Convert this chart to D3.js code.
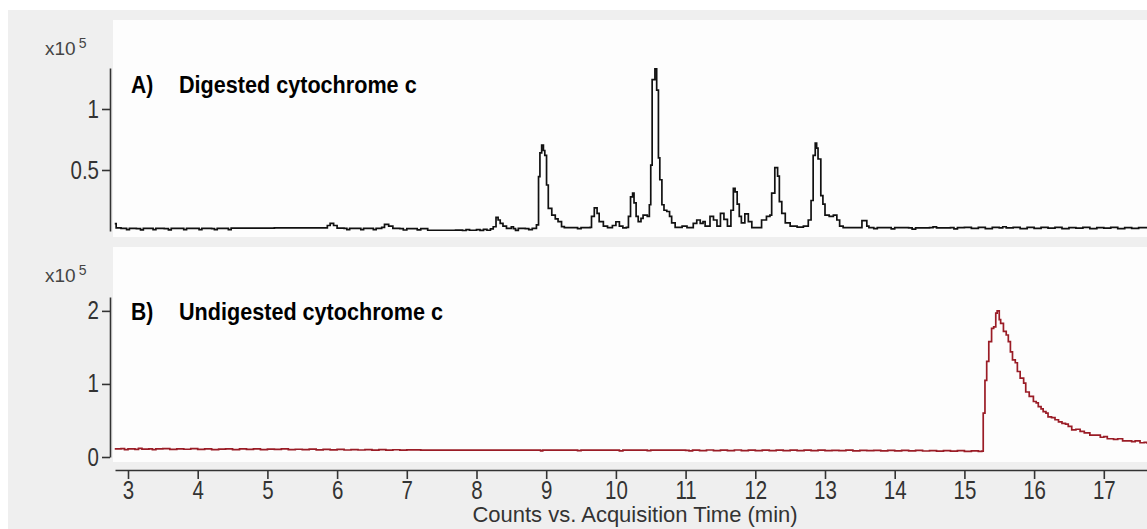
<!DOCTYPE html>
<html>
<head>
<meta charset="utf-8">
<script src="https://cdn.jsdelivr.net/npm/d3@7"></script>
<style>
  body { margin: 0; background: #ffffff; }
</style>
</head>
<body>
<div id="area_1"></div>
<script>
// chromatogram values, counts in x10^5, time in minutes
var digestedTrace = [
  [2.81,0.06],[2.83,0.025],[2.9,0.022],[2.98,0.012],[3.02,0.022],[3.12,0.02],[3.18,0.01],[3.22,0.022],
  [3.3,0.022],[3.36,0.012],[3.4,0.022],[3.52,0.02],[3.58,0.01],[3.62,0.022],[3.75,0.021],[3.8,0.012],
  [3.84,0.022],[3.95,0.022],[4.02,0.012],[4.06,0.022],[4.2,0.02],[4.24,0.012],[4.28,0.022],[4.4,0.022],
  [4.44,0.012],[4.48,0.024],[4.8,0.024],[5.1,0.025],[5.5,0.025],[5.82,0.025],[5.86,0.045],[5.9,0.063],
  [5.95,0.045],[6.0,0.024],[6.1,0.022],[6.14,0.012],[6.18,0.022],[6.3,0.022],[6.34,0.012],[6.38,0.022],
  [6.48,0.022],[6.52,0.012],[6.56,0.022],[6.64,0.03],[6.68,0.055],[6.74,0.04],[6.8,0.022],[6.9,0.02],
  [6.95,0.008],[7.0,0.02],[7.1,0.02],[7.15,0.01],[7.2,0.02],[7.3,0.006],[7.5,0.006],[7.7,0.007],
  [7.8,0.004],[7.85,0.012],[7.9,0.006],[8.0,0.012],[8.05,0.005],[8.1,0.014],[8.15,0.006],[8.2,0.018],
  [8.24,0.035],[8.28,0.112],[8.31,0.09],[8.34,0.063],[8.38,0.04],[8.43,0.022],[8.5,0.035],[8.53,0.02],
  [8.56,0.005],[8.6,0.022],[8.7,0.02],[8.75,0.012],[8.8,0.022],[8.86,0.05],[8.89,0.445],[8.91,0.64],
  [8.935,0.705],[8.96,0.66],[8.98,0.62],[9.005,0.377],[9.03,0.186],[9.08,0.13],[9.13,0.1],[9.17,0.077],
  [9.22,0.036],[9.26,0.027],[9.4,0.027],[9.45,0.02],[9.5,0.027],[9.63,0.03],[9.65,0.12],[9.69,0.19],
  [9.73,0.145],[9.76,0.077],[9.82,0.04],[9.88,0.028],[9.95,0.045],[10.0,0.076],[10.05,0.04],[10.1,0.025],
  [10.15,0.03],[10.18,0.12],[10.21,0.28],[10.24,0.31],[10.26,0.23],[10.29,0.12],[10.32,0.077],[10.36,0.104],
  [10.39,0.13],[10.45,0.12],[10.48,0.215],[10.5,0.54],[10.52,1.24],[10.56,1.33],[10.585,1.155],[10.61,0.6],
  [10.63,0.42],[10.66,0.215],[10.69,0.17],[10.73,0.16],[10.77,0.12],[10.8,0.066],[10.85,0.03],[10.95,0.04],
  [11.02,0.028],[11.11,0.063],[11.16,0.09],[11.21,0.063],[11.25,0.077],[11.28,0.04],[11.35,0.12],[11.4,0.09],
  [11.45,0.04],[11.5,0.145],[11.55,0.096],[11.6,0.04],[11.65,0.17],[11.685,0.35],[11.71,0.32],[11.74,0.22],
  [11.77,0.12],[11.8,0.066],[11.85,0.14],[11.9,0.077],[11.95,0.027],[12.05,0.027],[12.09,0.09],[12.16,0.12],
  [12.21,0.13],[12.235,0.31],[12.28,0.52],[12.32,0.45],[12.345,0.24],[12.38,0.145],[12.43,0.066],[12.5,0.04],
  [12.6,0.032],[12.69,0.04],[12.76,0.09],[12.8,0.25],[12.83,0.62],[12.86,0.72],[12.88,0.68],[12.9,0.59],
  [12.94,0.29],[12.97,0.22],[13.0,0.13],[13.06,0.12],[13.12,0.13],[13.17,0.09],[13.21,0.04],[13.26,0.027],
  [13.5,0.027],[13.53,0.085],[13.6,0.04],[13.63,0.027],[13.7,0.02],[13.75,0.027],[13.9,0.027],[13.95,0.018],
  [14.0,0.027],[14.2,0.025],[14.25,0.015],[14.3,0.026],[14.5,0.027],[14.55,0.033],[14.6,0.026],[14.8,0.028],
  [14.85,0.018],[14.9,0.027],[15.0,0.03],[15.1,0.022],[15.2,0.03],[15.3,0.02],[15.4,0.03],[15.5,0.026],
  [15.55,0.035],[15.6,0.025],[15.7,0.03],[15.8,0.02],[15.9,0.03],[16.0,0.022],[16.1,0.03],[16.2,0.024],
  [16.3,0.03],[16.4,0.02],[16.5,0.028],[16.6,0.024],[16.7,0.03],[16.8,0.02],[16.9,0.028],[17.0,0.024],
  [17.1,0.03],[17.2,0.02],[17.3,0.028],[17.4,0.022],[17.5,0.028],[17.62,0.024]
]

var undigestedTrace = [
  [2.81,0.11],[2.9,0.115],[2.95,0.1],[3.0,0.112],[3.1,0.105],[3.15,0.118],[3.2,0.108],[3.3,0.112],
  [3.35,0.1],[3.4,0.11],[3.5,0.115],[3.6,0.104],[3.7,0.112],[3.8,0.106],[3.9,0.114],[4.0,0.104],
  [4.1,0.11],[4.2,0.1],[4.3,0.108],[4.4,0.112],[4.5,0.102],[4.6,0.11],[4.7,0.105],[4.8,0.112],
  [4.9,0.1],[5.0,0.108],[5.1,0.104],[5.2,0.11],[5.3,0.1],[5.4,0.106],[5.5,0.1],[5.6,0.108],
  [5.7,0.098],[5.8,0.104],[5.9,0.098],[6.0,0.104],[6.1,0.096],[6.2,0.102],[6.3,0.096],[6.4,0.1],
  [6.5,0.094],[6.6,0.1],[6.7,0.095],[6.8,0.099],[6.9,0.094],[7.0,0.098],[7.2,0.095],[7.5,0.095],
  [8.0,0.094],[8.5,0.094],[8.9,0.094],[8.92,0.085],[8.95,0.094],[9.4,0.094],[9.45,0.086],[9.5,0.093],
  [10.0,0.093],[10.05,0.085],[10.1,0.093],[10.4,0.093],[10.45,0.086],[10.5,0.093],[11.0,0.092],[11.05,0.084],
  [11.1,0.094],[11.2,0.088],[11.3,0.096],[11.4,0.086],[11.5,0.094],[11.6,0.088],[11.7,0.096],[11.8,0.086],
  [11.9,0.094],[12.0,0.088],[12.1,0.095],[12.2,0.088],[12.3,0.094],[12.4,0.087],[12.5,0.094],[12.6,0.088],
  [12.7,0.095],[12.8,0.088],[12.9,0.093],[13.0,0.086],[13.1,0.092],[13.2,0.088],[13.3,0.093],[13.4,0.085],
  [13.5,0.092],[13.6,0.086],[13.7,0.092],[13.8,0.085],[13.9,0.091],[14.0,0.084],[14.1,0.09],[14.2,0.083],
  [14.3,0.09],[14.4,0.082],[14.5,0.088],[14.6,0.08],[14.7,0.088],[14.8,0.08],[14.9,0.086],[15.0,0.078],
  [15.1,0.084],[15.2,0.078],[15.25,0.08],[15.27,0.6],[15.295,1.05],[15.32,1.31],[15.35,1.58],[15.39,1.76],
  [15.42,1.78],[15.45,1.97],[15.47,2.0],[15.5,1.88],[15.52,1.83],[15.56,1.72],[15.6,1.67],[15.63,1.58],
  [15.66,1.44],[15.69,1.33],[15.73,1.29],[15.76,1.17],[15.8,1.08],[15.85,1.01],[15.88,0.89],[15.93,0.83],
  [15.99,0.76],[16.03,0.74],[16.06,0.69],[16.1,0.66],[16.13,0.62],[16.17,0.6],[16.2,0.55],[16.25,0.54],
  [16.3,0.51],[16.35,0.48],[16.4,0.46],[16.45,0.45],[16.49,0.42],[16.54,0.37],[16.6,0.38],[16.66,0.35],
  [16.72,0.33],[16.8,0.3],[16.87,0.3],[16.95,0.27],[17.0,0.28],[17.05,0.25],[17.14,0.24],[17.2,0.25],
  [17.27,0.22],[17.33,0.22],[17.4,0.21],[17.45,0.22],[17.52,0.195],[17.58,0.2],[17.62,0.18]
]

var timeTicks = [3,4,5,6,7,8,9,10,11,12,13,14,15,16,17]
var ticksA = [0.5, 1]
var ticksB = [0, 1, 2]
var titleA = ["A)", "Digested cytochrome c"]
var titleB = ["B)", "Undigested cytochrome c"]
var xLabel = "Counts vs. Acquisition Time (min)"
var scaleLabel = ["x10", "5"]

var width = 1147, height = 529
var axisColor = "#333333"
var font = '"Liberation Sans", Arial, sans-serif'
var squeeze = 0.82   // tick digits in the original are tall and narrow

var svg = d3.select("#area_1")
  .append("svg")
    .attr("width", width)
    .attr("height", height)
    .style("display", "block")

// gray window background
svg.append("rect")
  .attr("x", 8).attr("y", 10)
  .attr("width", width - 8).attr("height", height - 10)
  .style("fill", "#efefef")

var x = d3.scaleLinear().domain([3, 17]).range([128, 1103.8])
var xStart = x.invert(115), xEnd = x.invert(width)
x.domain([xStart, xEnd]).range([115, width])

var yA = d3.scaleLinear().domain([0, 1.336]).range([231, 68])
var yB = d3.scaleLinear().domain([0, 2.19]).range([457, 297])

function drawPanel(top, bottom, y, ticks, trace, color, title) {
  svg.append("rect")
    .attr("x", 113).attr("y", top)
    .attr("width", width - 113).attr("height", bottom - top)
    .style("fill", "#fdfdfd")

  var yAxis = svg.append("g")
    .attr("transform", "translate(110,0)")
    .call(d3.axisLeft(y).tickValues(ticks).tickSize(8).tickSizeOuter(0).tickPadding(3)
      .tickFormat(function(d) { return d; }))
  yAxis.selectAll("path, line").style("stroke", axisColor).style("stroke-width", 1.6)
  yAxis.selectAll("text")
    .attr("x", -11 / squeeze)
    .attr("transform", "scale(" + squeeze + ",1)")
    .style("fill", axisColor).style("font-size", "25px")
    .style("font-family", font)

  var lab = svg.append("text")
    .attr("x", 45).attr("y", top + 35)
    .style("font-family", font)
    .style("font-size", "19px")
    .style("fill", "#444")
    .text(scaleLabel[0])
  lab.append("tspan")
    .attr("dx", 3).attr("dy", -7)
    .style("font-size", "14px")
    .text(scaleLabel[1])

  svg.append("path")
    .datum(trace)
    .attr("d", d3.line()
      .curve(d3.curveStepAfter)
      .x(function(d) { return x(d[0]) })
      .y(function(d) { return y(d[1]) }))
    .style("fill", "none")
    .style("stroke", color)
    .style("stroke-width", 1.7)

  var t = svg.append("g")
    .style("font-family", font)
    .style("font-weight", "bold")
    .style("font-size", "24px")
    .style("fill", "#000")
  t.append("text").attr("transform", "translate(131," + (top + 73) + ") scale(0.88,1)").text(title[0])
  t.append("text").attr("transform", "translate(179," + (top + 73) + ") scale(0.9,1)").text(title[1])
}

drawPanel(20, 237, yA, ticksA, digestedTrace, "#111111", titleA)
drawPanel(247, 462, yB, ticksB, undigestedTrace, "#9a1c26", titleB)

// time axis
var xAxis = svg.append("g")
  .attr("transform", "translate(0,470)")
  .call(d3.axisBottom(x).tickValues(timeTicks).tickSize(9).tickSizeOuter(0).tickPadding(2))
xAxis.selectAll("path, line").style("stroke", axisColor).style("stroke-width", 1.6)
xAxis.selectAll("text")
  .attr("transform", "scale(" + squeeze + ",1)")
  .attr("x", function(d) { return 0 })
  .style("fill", axisColor).style("font-size", "25px")
  .style("font-family", font)
// keep labels centred under ticks after squeezing
xAxis.selectAll(".tick text").attr("transform", "scale(" + squeeze + ",1)")

svg.append("text")
  .attr("x", 635).attr("y", 522)
  .attr("text-anchor", "middle")
  .style("font-family", font)
  .style("font-size", "22px")
  .style("fill", axisColor)
  .text(xLabel)
</script>
</body>
</html>
